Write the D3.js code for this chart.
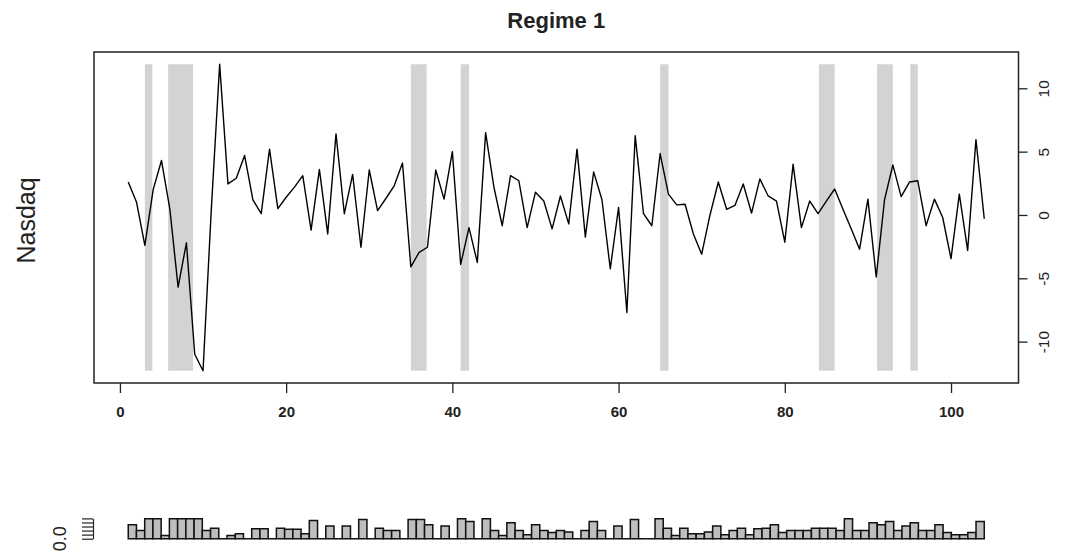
<!DOCTYPE html>
<html>
<head>
<meta charset="utf-8">
<script src="https://cdn.jsdelivr.net/npm/d3@7"></script>
<style>
  html, body { margin: 0; padding: 0; background: #ffffff; }
  svg { display: block; font-family: "Liberation Sans", Arial, sans-serif; }
</style>
</head>
<body>
<svg id="chart" width="1065" height="558"></svg>
<script>
// Nasdaq returns by period (1..104)
const periods = d3.range(1, 105);
const nasdaq = [
  2.6, 1.0, -2.4, 2.0, 4.3, 0.5, -5.7, -2.2, -11.0, -12.3,
  0.5, 11.9, 2.45, 2.9, 4.7, 1.2, 0.1, 5.2, 0.5, 1.4,
  2.2, 3.1, -1.2, 3.6, -1.5, 6.4, 0.1, 3.2, -2.55, 3.55,
  0.35, 1.3, 2.3, 4.1, -4.1, -2.95, -2.55, 3.55, 1.25, 5.0,
  -3.9, -1.0, -3.75, 6.5, 2.2, -0.85, 3.1, 2.7, -1.0, 1.8,
  1.1, -1.1, 1.5, -0.7, 5.2, -1.75, 3.4, 1.2, -4.25, 0.6,
  -7.7, 6.25, 0.1, -0.85, 4.85, 1.65, 0.8, 0.85, -1.5, -3.1,
  0.0, 2.6, 0.45, 0.75, 2.45, 0.15, 2.85, 1.5, 1.1, -2.15,
  4.0, -1.0, 1.1, 0.1, 1.1, 2.05, 0.45, -1.1, -2.7, 1.25,
  -4.9, 1.2, 3.95, 1.45, 2.6, 2.7, -0.85, 1.25, -0.2, -3.45,
  1.65, -2.8, 5.95, -0.3
];

// Shaded spans where regime 1 is in force (period units)
const shadeStart = [3.0, 5.8, 35.0, 41.0, 65.0, 84.1, 91.1, 95.1];
const shadeEnd   = [3.9, 8.8, 36.9, 42.0, 66.0, 86.0, 93.0, 96.0];

// Regime 1 probability by period
const regimeProb = [
  0.69, 0.41, 0.98, 0.98, 0.16, 0.98, 0.98, 0.98, 0.98, 0.41,
  0.52, 0, 0.16, 0.25, 0, 0.49, 0.49, 0, 0.52, 0.46,
  0.46, 0.25, 0.90, 0, 0.62, 0, 0.62, 0, 0.95, 0,
  0.52, 0.41, 0.41, 0, 0.95, 0.95, 0.69, 0, 0.62, 0,
  0.98, 0.85, 0, 0.98, 0.41, 0.16, 0.79, 0.41, 0.20, 0.69,
  0.41, 0.30, 0.41, 0.33, 0, 0.41, 0.85, 0.41, 0, 0.62,
  0, 0.95, 0, 0, 0.98, 0.52, 0.16, 0.52, 0.25, 0.25,
  0.33, 0.62, 0.20, 0.41, 0.52, 0.20, 0.49, 0.52, 0.69, 0.30,
  0.41, 0.41, 0.41, 0.52, 0.52, 0.52, 0.41, 0.98, 0.41, 0.41,
  0.79, 0.69, 0.85, 0.41, 0.62, 0.79, 0.41, 0.41, 0.69, 0.30,
  0.20, 0.20, 0.30, 0.85
];

const xTicks = [0, 20, 40, 60, 80, 100];
const yTicks = [-10, -5, 0, 5, 10];
const probTicks = [0, 0.2, 0.4, 0.6, 0.8, 1.0];

const svg = d3.select("#chart");

const box = { left: 94, right: 1018.5, top: 52, bottom: 383 };

// pad a range by 4% on each side
function padded(lo, hi) {
  const d = (hi - lo) * 0.04;
  return [lo - d, hi + d];
}

const x = d3.scaleLinear()
  .domain(padded(1, periods.length))
  .range([box.left, box.right]);

const yExt = d3.extent(nasdaq);
const y = d3.scaleLinear()
  .domain(padded(yExt[0], yExt[1]))
  .range([box.bottom, box.top]);

// shaded regime spans
svg.append("g")
  .selectAll("rect")
  .data(shadeStart.map((s, i) => [s, shadeEnd[i]]))
  .join("rect")
  .attr("x", d => x(d[0]))
  .attr("width", d => x(d[1]) - x(d[0]))
  .attr("y", y(yExt[1]))
  .attr("height", y(yExt[0]) - y(yExt[1]))
  .attr("fill", "#d3d3d3");

// return series
const line = d3.line()
  .x((d, i) => x(periods[i]))
  .y(d => y(d));

svg.append("path")
  .datum(nasdaq)
  .attr("d", line)
  .attr("fill", "none")
  .attr("stroke", "#000")
  .attr("stroke-width", 1.4)
  .attr("stroke-linejoin", "round");

// plot frame
svg.append("rect")
  .attr("x", box.left).attr("y", box.top)
  .attr("width", box.right - box.left)
  .attr("height", box.bottom - box.top)
  .attr("fill", "none")
  .attr("stroke", "#222")
  .attr("stroke-width", 1.5);

// bottom axis
const gx = svg.append("g")
  .attr("transform", `translate(0,${box.bottom})`)
  .call(d3.axisBottom(x).tickValues(xTicks).tickSize(10).tickSizeOuter(0).tickPadding(13));
gx.select(".domain").remove();
gx.selectAll(".tick line").attr("stroke", "#222").attr("stroke-width", 1.3);
gx.selectAll(".tick text")
  .attr("font-size", 15).attr("font-weight", "bold").attr("fill", "#222")
  .attr("font-family", "Liberation Sans, Arial, sans-serif");

// right axis, labels read bottom to top
const gy = svg.append("g")
  .attr("transform", `translate(${box.right},0)`)
  .call(d3.axisRight(y).tickValues(yTicks).tickSize(9).tickSizeOuter(0).tickFormat(d3.format("d")));
gy.select(".domain").remove();
gy.selectAll(".tick line").attr("stroke", "#222").attr("stroke-width", 1.3);
gy.selectAll(".tick text")
  .attr("x", null).attr("dy", "0.35em")
  .attr("transform", "translate(25,0) rotate(-90)")
  .attr("text-anchor", "middle")
  .attr("font-size", 15.5).attr("fill", "#222")
  .attr("font-family", "Liberation Sans, Arial, sans-serif")
  .text(d => d < 0 ? "-" + Math.abs(d) : d);

// title
svg.append("text")
  .attr("x", (box.left + box.right) / 2).attr("y", 28)
  .attr("text-anchor", "middle")
  .attr("font-size", 22).attr("font-weight", "bold").attr("fill", "#222")
  .text("Regime 1");

// y label
svg.append("text")
  .attr("transform", `translate(26,${(box.top + box.bottom) / 2 + 3}) rotate(-90)`)
  .attr("dy", "0.35em")
  .attr("text-anchor", "middle")
  .attr("font-size", 25).attr("fill", "#222")
  .text("Nasdaq");

// probability strip
const xb = d3.scaleLinear()
  .domain(padded(0, regimeProb.length))
  .range([box.left, box.right]);
const yb = d3.scaleLinear().domain([0, 1]).range([538.7, 518.4]);

svg.append("g")
  .selectAll("path")
  .data(regimeProb)
  .join("path")
  .attr("d", (p, i) => {
    const x0 = xb(i), x1 = xb(i + 1), y0 = yb(0), y1 = yb(p);
    return `M${x0},${y0}H${x1}V${y1}H${x0}Z`;
  })
  .attr("fill", "#bebebe")
  .attr("stroke", "#111")
  .attr("stroke-width", 1.5);

const gp = svg.append("g")
  .attr("transform", `translate(${box.left - 1},0)`)
  .call(d3.axisLeft(yb).tickValues(probTicks).tickSize(11).tickSizeOuter(0).tickFormat(""));
gp.select(".domain").attr("stroke", "#222").attr("stroke-width", 1.2);
gp.selectAll(".tick line").attr("stroke", "#222").attr("stroke-width", 1.2);

// only the lowest probability label fits
svg.append("text")
  .attr("transform", `translate(60,${yb(0)}) rotate(-90)`)
  .attr("dy", "0.35em")
  .attr("text-anchor", "middle")
  .attr("font-size", 18).attr("fill", "#222")
  .text(d3.format(".1f")(probTicks[0]));
</script>
</body>
</html>
